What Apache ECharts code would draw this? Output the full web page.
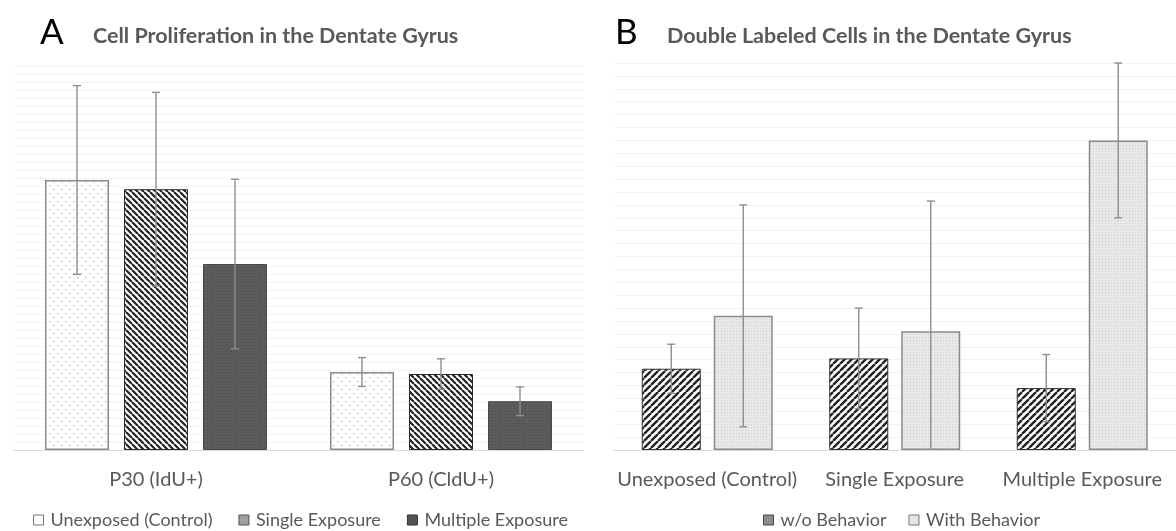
<!DOCTYPE html>
<html><head><meta charset="utf-8">
<script src="https://cdn.jsdelivr.net/npm/echarts@6/dist/echarts.min.js"></script>
<style>html,body{margin:0;padding:0;background:#fff}#c{width:1176px;height:531px}</style>
</head><body><div id="c"></div>
<script>
// ---------- DATA ----------
const catsA = ['P30 (IdU+)', 'P60 (CldU+)'];
const namesA = ['Unexposed (Control)', 'Single Exposure', 'Multiple Exposure'];
const unexposedA = [33.75, 9.75];
const singleA = [32.6, 9.5];
const multipleA = [23.25, 6.1];
const errUnexposedA = [11.8, 1.8];
const errSingleA = [12.1, 1.9];
const errMultipleA = [10.6, 1.8];

const catsB = ['Unexposed (Control)', 'Single Exposure', 'Multiple Exposure'];
const namesB = ['w/o Behavior', 'With Behavior'];
const woBehaviorB = [6.3, 7.1, 4.8];
const withBehaviorB = [10.4, 9.2, 24.0];
const errWoB = [1.9, 3.9, 2.6];
const errWithB = [8.6, 10.1, 6.0];

const titleA = 'Cell Proliferation in the Dentate Gyrus';
const titleB = 'Double Labeled Cells in the Dentate Gyrus';

// ---------- STYLE ----------
const FONT = 'Lato, "Open Sans", sans-serif';
const TXT = '#595959';
const BW_A = 64, GAP_A = 15, BW_B = 59, GAP_B = 13;

function tile(w, h, draw) {
  const c = document.createElement('canvas'); c.width = w; c.height = h;
  draw(c.getContext('2d'), w, h);
  return { image: c, repeat: 'repeat' };
}
function stripes(dir, s, lw, fg, bg) {
  return tile(s, s, (g) => {
    g.fillStyle = bg; g.fillRect(0, 0, s, s);
    g.strokeStyle = fg; g.lineWidth = lw; g.beginPath();
    for (let k = -1; k <= 1; k++) {
      if (dir > 0) { g.moveTo(k * s, 0); g.lineTo(k * s + s, s); }
      else { g.moveTo(k * s, s); g.lineTo(k * s + s, 0); }
    }
    g.stroke();
  });
}
const patDots = tile(8, 8, (g) => {
  g.fillStyle = '#fff'; g.fillRect(0, 0, 8, 8);
  g.fillStyle = '#b4b4b4'; g.fillRect(1, 1, 1.3, 1.3); g.fillRect(5, 5, 1.3, 1.3);
});
const patBack = stripes(1, 6, 2.2, '#222', '#ffffff');
const patFwd = stripes(-1, 7, 2.4, '#222', '#ffffff');
const patDark = tile(3, 3, (g) => {
  g.fillStyle = '#5c5c5c'; g.fillRect(0, 0, 3, 3);
  g.fillStyle = '#4c4c4c'; g.fillRect(0, 0, 1, 1);
});
const patLight = tile(3, 3, (g) => {
  g.fillStyle = '#e8e8e8'; g.fillRect(0, 0, 3, 3);
  g.fillStyle = '#d0d0d0'; g.fillRect(1, 1, 1, 1);
});

function errSeries(xi, vals, errs, offset) {
  return {
    type: 'custom', xAxisIndex: xi, yAxisIndex: xi, z: 5, silent: true,
    data: vals.map((v, i) => [i, v, errs[i]]),
    renderItem(params, api) {
      const i = api.value(0), v = api.value(1), e = api.value(2);
      const top = api.coord([i, v + e]);
      const bot = api.coord([i, Math.max(0, v - e)]);
      const x = top[0] + offset, cw = 4;
      const st = { stroke: '#8e8e8e', lineWidth: 1.4 };
      const ch = [
        { type: 'line', shape: { x1: x, y1: top[1], x2: x, y2: bot[1] }, style: st },
        { type: 'line', shape: { x1: x - cw, y1: top[1], x2: x + cw, y2: top[1] }, style: st }
      ];
      if (v - e > 0) ch.push({ type: 'line', shape: { x1: x - cw, y1: bot[1], x2: x + cw, y2: bot[1] }, style: st });
      return { type: 'group', children: ch };
    }
  };
}

function barSeries(xi, name, data, fill, border, bw, gap, bwid) {
  return {
    type: 'bar', name, xAxisIndex: xi, yAxisIndex: xi, data,
    barWidth: bw, barGap: (gap / bw * 100) + '%',
    itemStyle: { color: fill, borderColor: border, borderWidth: bwid },
    emphasis: { disabled: true }
  };
}

const axisX = (gi, cats) => ({
  type: 'category', gridIndex: gi, data: cats,
  axisLine: { lineStyle: { color: '#d9d9d9', width: 1 } },
  axisTick: { show: false },
  axisLabel: { color: TXT, fontSize: 20, fontFamily: FONT, margin: 20, interval: 0, hideOverlap: false }
});
const axisY = (gi, max) => ({
  type: 'value', gridIndex: gi, min: 0, max, interval: 1,
  axisLabel: { show: false }, axisLine: { show: false }, axisTick: { show: false },
  splitLine: { lineStyle: { color: '#f2f2f2', width: 1 } }
});

const offA = BW_A + GAP_A, offB = (BW_B + GAP_B) / 2;
const legendText = { color: TXT, fontSize: 18, fontFamily: FONT, padding: [0, 0, 0, 2] };

const option = {
  backgroundColor: '#fff',
  animation: false,
  title: [
    { text: 'A', left: 35, top: 10, textStyle: { fontSize: 35, fontWeight: 'normal', color: '#000', fontFamily: FONT } },
    { text: titleA, left: 88, top: 20, textStyle: { fontSize: 21.5, fontWeight: 'bold', color: TXT, fontFamily: FONT } },
    { text: 'B', left: 610, top: 10, textStyle: { fontSize: 35, fontWeight: 'normal', color: '#000', fontFamily: FONT } },
    { text: titleB, left: 662, top: 20, textStyle: { fontSize: 21.5, fontWeight: 'bold', color: TXT, fontFamily: FONT } }
  ],
  grid: [
    { left: 13.5, top: 66, width: 570, height: 384 },
    { left: 613.5, top: 63, width: 570, height: 387 }
  ],
  xAxis: [axisX(0, catsA), axisX(1, catsB)],
  yAxis: [axisY(0, 48), axisY(1, 30)],
  legend: [
    {
      left: 28, top: 506, itemWidth: 10, itemHeight: 10, itemGap: 26, icon: 'rect',
      textStyle: legendText,
      data: [
        { name: namesA[0], itemStyle: { color: '#fff', borderColor: '#777', borderWidth: 1 } },
        { name: namesA[1], itemStyle: { color: '#a0a0a0', borderColor: '#555', borderWidth: 1 } },
        { name: namesA[2], itemStyle: { color: '#555', borderColor: '#333', borderWidth: 1 } }
      ]
    },
    {
      left: 758, top: 506, itemWidth: 10, itemHeight: 10, itemGap: 22, icon: 'rect',
      textStyle: legendText,
      data: [
        { name: namesB[0], itemStyle: { color: '#8c8c8c', borderColor: '#444', borderWidth: 1 } },
        { name: namesB[1], itemStyle: { color: '#e6e6e6', borderColor: '#777', borderWidth: 1 } }
      ]
    }
  ],
  series: [
    barSeries(0, namesA[0], unexposedA, patDots, '#8a8a8a', BW_A, GAP_A, 1.5),
    barSeries(0, namesA[1], singleA, patBack, '#2a2a2a', BW_A, GAP_A, 1),
    barSeries(0, namesA[2], multipleA, patDark, '#4a4a4a', BW_A, GAP_A, 1),
    errSeries(0, unexposedA, errUnexposedA, -offA),
    errSeries(0, singleA, errSingleA, 0),
    errSeries(0, multipleA, errMultipleA, offA),
    barSeries(1, namesB[0], woBehaviorB, patFwd, '#333', BW_B, GAP_B, 1),
    barSeries(1, namesB[1], withBehaviorB, patLight, '#8a8a8a', BW_B, GAP_B, 1.5),
    errSeries(1, woBehaviorB, errWoB, -offB),
    errSeries(1, withBehaviorB, errWithB, offB)
  ]
};
const chart = echarts.init(document.getElementById('c'), null, { renderer: 'canvas' });
chart.setOption(option);
</script>
</body></html>
